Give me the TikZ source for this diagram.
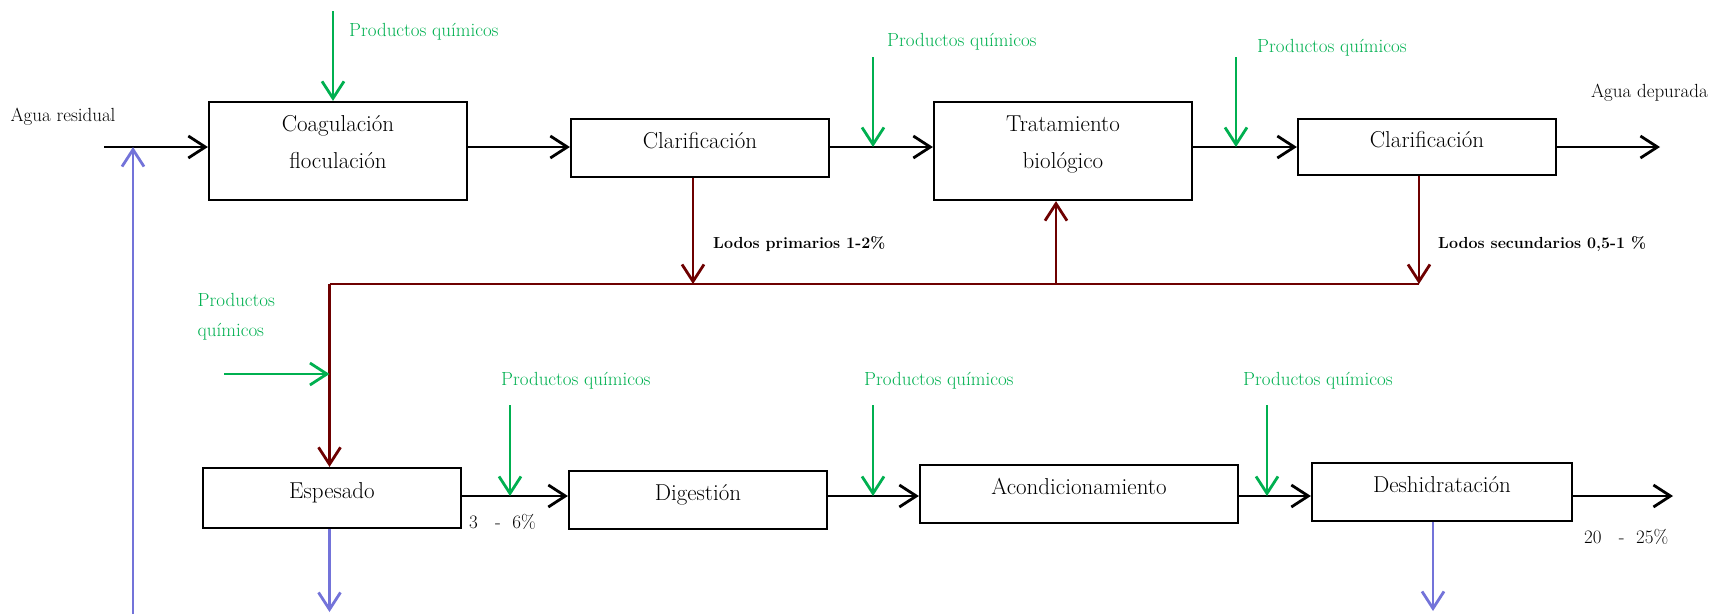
\documentclass[tikz,border=0pt]{standalone}
\usepackage{fontspec}
\usetikzlibrary{arrows.meta}

\definecolor{quimverde}{RGB}{0,176,80}
\definecolor{lodorojo}{RGB}{110,0,0}
\definecolor{fangoazul}{RGB}{115,115,217}

\begin{document}
\begin{tikzpicture}[x=1pt, y=-1pt,
    proc/.style={draw, line width=2.2pt, rectangle, minimum width=258pt, minimum height=58pt,
        inner sep=0pt, text height=16pt, text depth=15pt, font=\fontsize{23}{27}\selectfont},
    proc2/.style={draw, line width=2.2pt, rectangle, minimum width=258pt, minimum height=98pt,
        inner sep=0pt, align=center, text depth=18pt, font=\fontsize{23}{37}\selectfont},
    flujo/.style={line width=2.8pt, -{Straight Barb[length=17pt, width=22pt, line width=2.8pt]}},
    quim/.style={flujo, quimverde, line width=2.4pt},
    lodo/.style={flujo, lodorojo, line width=2.4pt},
    fango/.style={flujo, fangoazul, line width=2.4pt},
    etq/.style={inner sep=0pt, font=\fontsize{19}{23}\selectfont},
    etqq/.style={etq, text=quimverde, anchor=west},
    etql/.style={inner sep=0pt, anchor=west, font=\fontsize{16}{19}\selectfont\bfseries}
]
    \useasboundingbox (0,0) rectangle (1711,614);

    % linea de agua
    \node[proc2] (coag) at (338,151) {Coagulación\\floculación};
    \node[proc] (clar1) at (700,148) {Clarificación};
    \node[proc2] (trat) at (1063,151) {Tratamiento\\biológico};
    \node[proc, minimum height=56pt] (clar2) at (1427,147) {Clarificación};

    \node[etq] (agua) at (63,117) {Agua residual};
    \node[etq, anchor=east] (depurada) at (1708,93) {Agua depurada};

    \coordinate (ent) at (104,147);
    \coordinate (sal1) at (1660,147);

    \draw[flujo] (ent) -- (ent -| coag.west);
    \draw[flujo] (coag.east |- ent) -- (clar1.west |- ent);
    \draw[flujo] (clar1.east |- ent) -- (trat.west |- ent);
    \draw[flujo] (trat.east |- ent) -- (clar2.west |- ent);
    \draw[flujo] (clar2.east |- ent) -- (sal1);

    % productos quimicos (arriba)
    \coordinate (q1) at (333,11);
    \coordinate (q2) at (873,57);
    \coordinate (q3) at (1236,57);
    \node[etqq] (tq1) at (349,32) {Productos químicos};
    \node[etqq] (tq2) at (887,41.5) {Productos químicos};
    \node[etqq] (tq3) at (1257,48) {Productos químicos};
    \draw[quim] (q1) -- (q1 |- coag.north);
    \draw[quim] (q2) -- (q2 |- ent);
    \draw[quim] (q3) -- (q3 |- ent);

    % linea de fangos
    \node[proc, minimum height=60pt] (esp) at (332,498) {Espesado};
    \node[proc] (dig) at (698,500) {Digestión};
    \node[proc, minimum width=318pt] (acond) at (1079,494) {Acondicionamiento};
    \node[proc, minimum width=260pt] (desh) at (1442,492) {Deshidratación};

    \coordinate (sal2) at (1673,496);

    \draw[flujo] (esp.east |- sal2) -- (dig.west |- sal2);
    \draw[flujo] (dig.east |- sal2) -- (acond.west |- sal2);
    \draw[flujo] (acond.east |- sal2) -- (desh.west |- sal2);
    \draw[flujo] (desh.east |- sal2) -- (sal2);

    \node[etq, anchor=west] (c36) at (469,522) {3 \ \ - \ 6\%};
    \node[etq, anchor=west] (c2025) at (1584,537) {20 \ \ - \ 25\%};

    % productos quimicos (abajo)
    \coordinate (q4) at (510,405);
    \coordinate (q5) at (873,405);
    \coordinate (q6) at (1267,405);
    \node[etqq] (tq4) at (501,381) {Productos químicos};
    \node[etqq] (tq5) at (864,381) {Productos químicos};
    \node[etqq] (tq6) at (1243,381) {Productos químicos};
    \draw[quim] (q4) -- (q4 |- sal2);
    \draw[quim] (q5) -- (q5 |- sal2);
    \draw[quim] (q6) -- (q6 |- sal2);

    % lodos
    \coordinate (r0) at (329.5,284);
    \coordinate (r1) at (693,284);
    \coordinate (r2) at (1056,284);
    \coordinate (r3) at (1419,284);
    \draw[lodorojo, line width=2.4pt] (r0) -- (r3);
    \draw[lodo] (r1 |- clar1.south) -- (r1);
    \draw[lodo] (r2) -- (r2 |- trat.south);
    \draw[lodo] (r3 |- clar2.south) -- (r3);
    \draw[lodo] (r0) -- (r0 |- esp.north);
    \node[etql] (lprim) at (713,244) {Lodos primarios 1-2\%};
    \node[etql] (lsec) at (1438,244) {Lodos secundarios 0,5-1 \%};

    \coordinate (q7) at (224,374);
    \draw[quim] (q7) -- (q7 -| r0);
    \node[etqq, align=left, font=\fontsize{19}{29.5}\selectfont] (tq7) at (197.5,317) {Productos\\químicos};

    % retornos
    \coordinate (b1) at (133,614);
    \coordinate (b2) at (329.5,612);
    \coordinate (b3) at (1433,611);
    \draw[fango] (b1) -- (b1 |- ent);
    \draw[fango] (b2 |- esp.south) -- (b2);
    \draw[fango] (b3 |- desh.south) -- (b3);

\end{tikzpicture}
\end{document}
